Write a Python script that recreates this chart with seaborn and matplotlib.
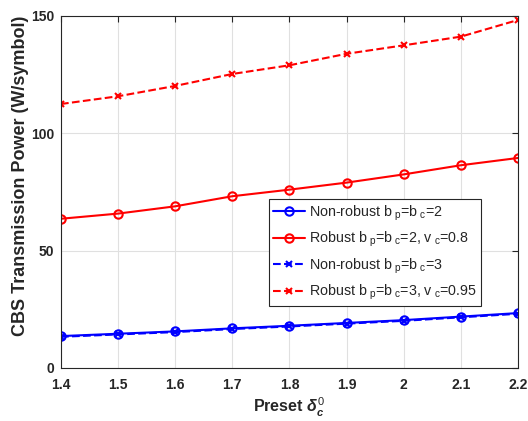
import matplotlib
matplotlib.use("Agg")
import matplotlib.pyplot as plt
import seaborn as sns
import pandas as pd

sns.set_style("white")
plt.rcParams['font.family'] = ['Liberation Sans', 'DejaVu Sans']
plt.rcParams['mathtext.fontset'] = 'custom'
plt.rcParams['mathtext.rm'] = 'Liberation Sans'
plt.rcParams['mathtext.it'] = 'Liberation Sans:italic:bold'
plt.rcParams['mathtext.bf'] = 'Liberation Sans:bold'

delta = [1.4, 1.5, 1.6, 1.7, 1.8, 1.9, 2.0, 2.1, 2.2]
nonrobust_2 = [13.6, 14.6, 15.6, 16.9, 18.0, 19.2, 20.4, 21.9, 23.4]
robust_2 = [63.6, 65.8, 68.9, 73.2, 76.0, 79.0, 82.5, 86.4, 89.5]
nonrobust_3 = [13.3, 14.3, 15.3, 16.6, 17.7, 18.9, 20.1, 21.6, 23.1]
robust_3 = [112.5, 115.8, 120.2, 125.3, 129.0, 133.9, 137.5, 141.2, 148.3]

labels = [r"Non-robust b$_{\ \mathregular{p}}$=b$_{\ \mathregular{c}}$=2",
          r"Robust b$_{\ \mathregular{p}}$=b$_{\ \mathregular{c}}$=2, v$_{\ \mathregular{c}}$=0.8",
          r"Non-robust b$_{\ \mathregular{p}}$=b$_{\ \mathregular{c}}$=3",
          r"Robust b$_{\ \mathregular{p}}$=b$_{\ \mathregular{c}}$=3, v$_{\ \mathregular{c}}$=0.95"]
xticks = [1.4, 1.5, 1.6, 1.7, 1.8, 1.9, 2.0, 2.1, 2.2]
xticklabels = ["1.4", "1.5", "1.6", "1.7", "1.8", "1.9", "2", "2.1", "2.2"]
yticks = [0, 50, 100, 150]

fig = plt.figure(figsize=(5.28, 4.21), dpi=100)
ax = fig.add_axes([0.1155, 0.1259, 0.8655, 0.8361])

styles = [
    dict(y=nonrobust_2, color="#0000ff", ls="-", marker="o", mfc="none", ms=6, mew=1.5),
    dict(y=robust_2, color="#ff0000", ls="-", marker="o", mfc="none", ms=6, mew=1.5),
    dict(y=nonrobust_3, color="#0000ff", ls="--", marker="x", mfc="#0000ff", ms=4, mew=1.5),
    dict(y=robust_3, color="#ff0000", ls="--", marker="x", mfc="#ff0000", ms=4, mew=1.5),
]
for lab, st in zip(labels, styles):
    df = pd.DataFrame({"x": delta, "y": st["y"]})
    sns.lineplot(data=df, x="x", y="y", ax=ax, color=st["color"], linestyle=st["ls"],
                 marker=st["marker"], markerfacecolor=st["mfc"], markeredgecolor=st["color"],
                 markersize=st["ms"], markeredgewidth=st["mew"], linewidth=1.5, label=lab)

ax.set_xlim(1.4, 2.2)
ax.set_ylim(0, 150)
ax.set_xticks(xticks)
ax.set_xticklabels(xticklabels)
ax.set_yticks(yticks)
ax.grid(True, color="#e0e0e0", linewidth=0.8)
ax.set_axisbelow(True)
ax.tick_params(direction="in", top=True, right=True, length=4, width=0.8, colors="#262626",
               labelsize=10)
ax.tick_params(axis="x", pad=7)
ax.tick_params(axis="y", pad=5)
for lbl in ax.get_xticklabels() + ax.get_yticklabels():
    lbl.set_fontweight("bold")
for sp in ax.spines.values():
    sp.set_color("#262626")
    sp.set_linewidth(0.8)

ax.set_xlabel(r"Preset $\delta_c^0$", fontsize=11.5, fontweight="bold", color="#262626", labelpad=3)
ax.set_ylabel("CBS Transmission Power (W/symbol)", fontsize=13, fontweight="bold", color="#262626")
ax.yaxis.set_label_coords(-0.071, 0.545)

leg = ax.legend(loc="upper left", bbox_to_anchor=(0.455, 0.48), fontsize=10.3, frameon=True,
                fancybox=False, edgecolor="#262626", framealpha=1, handlelength=2.2,
                borderpad=0.3, labelspacing=0.5, handletextpad=0.3, borderaxespad=0)
leg.get_frame().set_linewidth(0.8)

fig.savefig("out.png", dpi=100)
